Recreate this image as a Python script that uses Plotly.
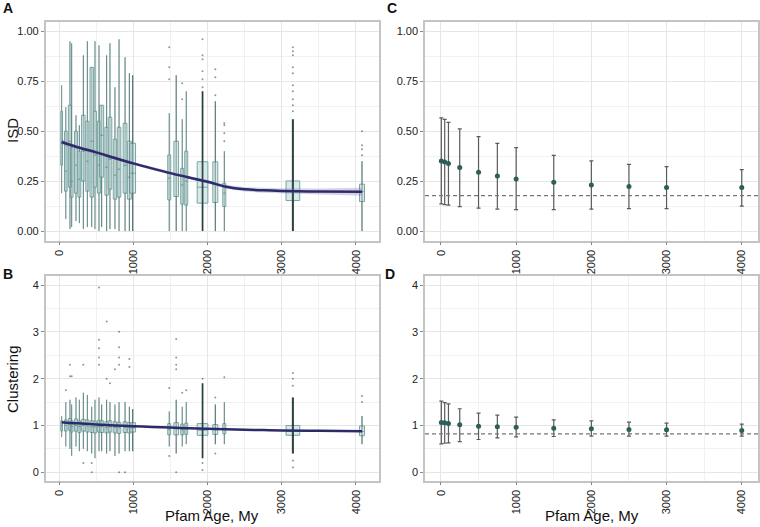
import plotly.graph_objects as go
import numpy as np

# ---------------- DATA ----------------
# Panel A/B: Pfam age groups (My) and family counts (box width ~ sqrt(n))
ages = [35, 91, 147, 170, 228, 273, 327, 381, 440, 484, 538, 574, 641, 686, 753, 808, 889, 947, 992,
        1484, 1578, 1659, 1713, 1933, 2105, 2226, 3150, 4081]
n_fam = [50, 110, 160, 120, 150, 130, 200, 150, 180, 170, 160, 250, 190, 210, 180, 200, 230, 250, 520,
         144, 350, 144, 144, 1830, 400, 144, 3000, 400]

# ISD box statistics
isd_lo  = [0.19, 0.06, 0.01, 0.02, 0.05, 0.04, 0.01, 0.02, 0.02, 0.01, 0.00, 0.02, 0.00, 0.01, 0.01, 0.00, 0.00, 0.00, 0.00,
           0.00, 0.00, 0.00, 0.00, 0.00, 0.00, 0.00, 0.00, 0.00]
isd_q1  = [0.33, 0.20, 0.22, 0.17, 0.19, 0.17, 0.25, 0.20, 0.17, 0.22, 0.19, 0.27, 0.18, 0.21, 0.16, 0.17, 0.19, 0.16, 0.19,
           0.156, 0.173, 0.135, 0.13, 0.14, 0.143, 0.123, 0.153, 0.148]
isd_med = [0.44, 0.30, 0.45, 0.25, 0.33, 0.26, 0.40, 0.35, 0.45, 0.38, 0.33, 0.48, 0.32, 0.36, 0.28, 0.31, 0.33, 0.27, 0.29,
           0.265, 0.281, 0.231, 0.25, 0.22, 0.235, 0.19, 0.203, 0.197]
isd_q3  = [0.60, 0.50, 0.63, 0.42, 0.50, 0.40, 0.58, 0.55, 0.82, 0.60, 0.55, 0.63, 0.52, 0.57, 0.46, 0.52, 0.54, 0.45, 0.44,
           0.381, 0.45, 0.314, 0.40, 0.347, 0.347, 0.24, 0.251, 0.235]
isd_hi  = [0.73, 0.62, 0.95, 0.94, 0.58, 0.53, 0.88, 0.95, 0.82, 0.95, 0.93, 0.63, 0.88, 0.94, 0.72, 0.96, 0.87, 0.79, 0.78,
           0.59, 0.78, 0.56, 0.70, 0.70, 0.65, 0.40, 0.56, 0.35]
isd_out_age = [1484, 1484, 1484, 1659, 1659, 1933, 1933, 1933, 1933, 1933, 1933, 2105, 2105, 2105,
               2226, 2226, 2226, 2226, 3150, 3150, 3150, 3150, 3150, 3150, 3150, 3150, 3150, 3150,
               4081, 4081, 4081, 4081]
isd_out_val = [0.92, 0.82, 0.76, 0.66, 0.74, 0.96, 0.88, 0.86, 0.80, 0.76, 0.72, 0.81, 0.77, 0.68,
               0.54, 0.53, 0.49, 0.45, 0.92, 0.90, 0.88, 0.82, 0.79, 0.73, 0.70, 0.66, 0.63, 0.60,
               0.50, 0.43, 0.41, 0.38]

# Clustering box statistics
clu_lo  = [0.75, 0.55, 0.50, 0.35, 0.55, 0.45, 0.50, 0.45, 0.40, 0.30, 0.45, 0.45, 0.40, 0.45, 0.35, 0.40, 0.45, 0.45, 0.45,
           0.55, 0.40, 0.55, 0.60, 0.30, 0.60, 0.60, 0.40, 0.60]
clu_q1  = [0.88, 0.88, 0.90, 0.86, 0.88, 0.85, 0.88, 0.86, 0.85, 0.84, 0.86, 0.85, 0.84, 0.86, 0.84, 0.83, 0.85, 0.84, 0.86,
           0.80, 0.80, 0.80, 0.81, 0.79, 0.81, 0.82, 0.79, 0.78]
clu_med = [1.00, 1.00, 1.02, 0.98, 1.00, 0.98, 1.00, 0.99, 0.97, 0.97, 0.98, 0.98, 0.96, 0.97, 0.96, 0.95, 0.96, 0.95, 0.95,
           0.92, 0.93, 0.91, 0.92, 0.90, 0.91, 0.92, 0.88, 0.87]
clu_q3  = [1.10, 1.12, 1.15, 1.10, 1.14, 1.10, 1.13, 1.12, 1.10, 1.09, 1.11, 1.10, 1.08, 1.10, 1.08, 1.07, 1.08, 1.06, 1.06,
           1.04, 1.06, 1.03, 1.05, 1.04, 1.02, 1.04, 1.00, 0.99]
clu_hi  = [1.20, 1.50, 1.55, 1.45, 1.60, 1.55, 1.70, 1.65, 1.40, 1.55, 1.60, 1.45, 1.55, 1.50, 1.45, 1.50, 1.50, 1.40, 1.35,
           1.30, 1.55, 1.40, 1.50, 1.90, 1.45, 1.50, 1.60, 1.20]
clu_out_age = [91, 147, 147, 170, 327, 327, 440, 440, 538, 538, 538, 538, 538, 641, 641, 686, 753,
               808, 808, 808, 808, 808, 889, 947, 947,
               1484, 1484, 1578, 1578, 1578, 1578, 1578, 1659, 1713, 1933, 1933, 1933, 2105, 2105, 2226,
               3150, 3150, 3150, 3150, 3150, 4081, 4081]
clu_out_val = [1.75, 2.30, 2.05, 2.05, 2.30, 0.20, 0.00, 0.20, 3.95, 2.83, 2.65, 2.45, 2.30, 3.22, 2.00, 1.90, 2.20,
               3.00, 2.67, 2.45, 2.30, 0.00, 0.00, 2.42, 2.25,
               1.80, 0.35, 2.85, 2.45, 2.30, 2.20, 0.00, 1.70, 1.75, 2.00, 0.05, 0.20, 1.60, 0.40, 2.03,
               2.12, 2.00, 1.85, 0.10, 0.25, 1.63, 1.50]

# LOESS fits
fit_age = [35, 250, 500, 750, 1000, 1250, 1500, 1750, 2000, 2250, 2500, 2750, 3000, 3500, 4081]
isd_fit = [0.446, 0.420, 0.394, 0.366, 0.339, 0.314, 0.290, 0.268, 0.247, 0.222, 0.209, 0.204, 0.201, 0.198, 0.197]
isd_se  = [0.012, 0.009, 0.008, 0.008, 0.008, 0.008, 0.008, 0.008, 0.009, 0.010, 0.011, 0.012, 0.013, 0.015, 0.020]
clu_fit = [1.070, 1.045, 1.022, 1.002, 0.985, 0.970, 0.955, 0.942, 0.930, 0.920, 0.910, 0.902, 0.895, 0.886, 0.878]
clu_se  = [0.012, 0.008, 0.007, 0.007, 0.007, 0.007, 0.007, 0.007, 0.007, 0.007, 0.007, 0.007, 0.007, 0.008, 0.012]

# Panels C/D: means with error bars
cd_age = [5, 50, 100, 250, 500, 750, 1000, 1500, 2000, 2500, 3000, 4000]
isd_mean  = [0.351, 0.346, 0.338, 0.318, 0.295, 0.276, 0.261, 0.245, 0.231, 0.223, 0.218, 0.218]
isd_upper = [0.567, 0.559, 0.544, 0.512, 0.473, 0.439, 0.418, 0.379, 0.351, 0.334, 0.323, 0.308]
isd_lower = [0.136, 0.133, 0.130, 0.123, 0.115, 0.110, 0.108, 0.108, 0.110, 0.113, 0.113, 0.125]
isd_baseline = 0.178
clu_mean  = [1.064, 1.057, 1.043, 1.014, 0.986, 0.971, 0.964, 0.943, 0.929, 0.914, 0.907, 0.893]
clu_upper = [1.520, 1.490, 1.460, 1.357, 1.264, 1.221, 1.179, 1.121, 1.100, 1.071, 1.050, 1.029]
clu_lower = [0.607, 0.620, 0.630, 0.657, 0.700, 0.736, 0.757, 0.764, 0.771, 0.771, 0.771, 0.771]
clu_baseline = 0.82

x_ticks = [0, 1000, 2000, 3000, 4000]

# ---------------- STYLE / LAYOUT ----------------
W, H = 760, 527
FONT = "Liberation Sans, Arial, sans-serif"
BOX_FILL = "rgba(190,220,220,0.6)"
BOX_LINE = "#79a6a4"
FIT_COL = "#2c2a6a"
RIB_COL = "rgba(120,110,170,0.30)"
TICK_SIZE = 11
TICK_COL = "#222"

def px_to_dom(x0, x1):
    return [x0 / W, x1 / W]

def py_to_dom(y0, y1):
    return [1 - y1 / H, 1 - y0 / H]

XR_AB = [-180, 4310]
XR_CD = [-212, 4220]
PX_PER_UNIT_AB = (379.0 - 45.7) / (XR_AB[1] - XR_AB[0])

fig = go.Figure()

def add_box_panel(xa, ya, lo, q1, med, q3, hi, out_age, out_val):
    for i, a in enumerate(ages):
        wpx = 0.25 * np.sqrt(n_fam[i])
        wunits = wpx / PX_PER_UNIT_AB
        fig.add_trace(go.Box(
            x=[a], q1=[q1[i]], median=[med[i]], q3=[q3[i]],
            lowerfence=[lo[i]], upperfence=[hi[i]],
            width=wunits, whiskerwidth=0, boxpoints=False,
            fillcolor=BOX_FILL, line=dict(color=BOX_LINE, width=1),
            xaxis=xa, yaxis=ya, showlegend=False, hoverinfo="skip"))
    for i, a in enumerate(ages):
        lw = 0.7 + np.sqrt(n_fam[i]) / 40.0
        alpha = min(0.85, 0.22 + n_fam[i] / 2200.0)
        fig.add_trace(go.Scatter(
            x=[a, a], y=[lo[i], hi[i]], mode="lines",
            line=dict(color=f"rgba(25,45,45,{alpha:.2f})", width=lw),
            xaxis=xa, yaxis=ya, showlegend=False, hoverinfo="skip"))
    fig.add_trace(go.Scatter(
        x=out_age, y=out_val, mode="markers",
        marker=dict(color="rgba(30,50,50,0.5)", size=2),
        xaxis=xa, yaxis=ya, showlegend=False, hoverinfo="skip"))

def add_fit(xa, ya, fit, se):
    up = [f + s for f, s in zip(fit, se)]
    dn = [f - s for f, s in zip(fit, se)]
    fig.add_trace(go.Scatter(x=fit_age + fit_age[::-1], y=up + dn[::-1], fill="toself",
                             fillcolor=RIB_COL, line=dict(width=0), mode="lines",
                             xaxis=xa, yaxis=ya, showlegend=False, hoverinfo="skip"))
    fig.add_trace(go.Scatter(x=fit_age, y=fit, mode="lines", line=dict(color=FIT_COL, width=2.5, shape="spline"),
                             xaxis=xa, yaxis=ya, showlegend=False, hoverinfo="skip"))

def add_means(xa, ya, mean, upper, lower):
    fig.add_trace(go.Scatter(
        x=cd_age, y=mean, mode="markers",
        marker=dict(color="#2c5f58", size=5),
        error_y=dict(type="data", symmetric=False,
                     array=[u - m for u, m in zip(upper, mean)],
                     arrayminus=[m - l for m, l in zip(mean, lower)],
                     color="#5a5a5a", thickness=1.2, width=2),
        xaxis=xa, yaxis=ya, showlegend=False, hoverinfo="skip"))

add_box_panel("x", "y", isd_lo, isd_q1, isd_med, isd_q3, isd_hi, isd_out_age, isd_out_val)
add_fit("x", "y", isd_fit, isd_se)
add_box_panel("x2", "y2", clu_lo, clu_q1, clu_med, clu_q3, clu_hi, clu_out_age, clu_out_val)
add_fit("x2", "y2", clu_fit, clu_se)
add_means("x3", "y3", isd_mean, isd_upper, isd_lower)
add_means("x4", "y4", clu_mean, clu_upper, clu_lower)

def xaxis_cfg(dom, rng, anchor):
    return dict(domain=dom, range=rng, anchor=anchor, tickvals=x_ticks, ticktext=[str(v) for v in x_ticks],
                tickangle=-90, ticks="outside", ticklen=3, tickcolor="#888", tickwidth=1,
                tickfont=dict(size=TICK_SIZE, color=TICK_COL, family=FONT),
                showgrid=True, gridcolor="#e6e6e6", gridwidth=1,
                minor=dict(tickvals=[500, 1500, 2500, 3500], showgrid=True, gridcolor="#f1f1f1", gridwidth=0.8, ticks=""),
                showline=True, linecolor="#c4c4c4", linewidth=1.5, mirror=True, zeroline=False)

def yaxis_cfg(dom, rng, anchor, tv, tt, minor_tv):
    return dict(domain=dom, range=rng, anchor=anchor, tickvals=tv, ticktext=tt,
                ticks="outside", ticklen=3, tickcolor="#888", tickwidth=1,
                tickfont=dict(size=TICK_SIZE, color=TICK_COL, family=FONT),
                showgrid=True, gridcolor="#e6e6e6", gridwidth=1,
                minor=dict(tickvals=minor_tv, showgrid=True, gridcolor="#f1f1f1", gridwidth=0.8, ticks=""),
                showline=True, linecolor="#c4c4c4", linewidth=1.5, mirror=True, zeroline=False)

isd_tv = [0, 0.25, 0.5, 0.75, 1.0]
isd_tt = ["0.00", "0.25", "0.50", "0.75", "1.00"]
isd_minor = [0.125, 0.375, 0.625, 0.875]
clu_tv = [0, 1, 2, 3, 4]
clu_tt = ["0", "1", "2", "3", "4"]
clu_minor = [0.5, 1.5, 2.5, 3.5]

XA = px_to_dom(45.7, 379.0)
XC = px_to_dom(425.0, 758.3)
YA = py_to_dom(21.7, 240.7)
YB = py_to_dom(275.7, 480.7)

fig.update_layout(
    width=W, height=H, margin=dict(l=0, r=0, t=0, b=0),
    paper_bgcolor="white", plot_bgcolor="white",
    font=dict(family=FONT, color="#222"),
    boxmode="overlay",
    xaxis=xaxis_cfg(XA, XR_AB, "y"),
    yaxis=yaxis_cfg(YA, [-0.048, 1.048], "x", isd_tv, isd_tt, isd_minor),
    xaxis2=xaxis_cfg(XA, XR_AB, "y2"),
    yaxis2=yaxis_cfg(YB, [-0.18, 4.2], "x2", clu_tv, clu_tt, clu_minor),
    xaxis3=xaxis_cfg(XC, XR_CD, "y3"),
    yaxis3=yaxis_cfg(YA, [-0.048, 1.048], "x3", isd_tv, isd_tt, isd_minor),
    xaxis4=xaxis_cfg(XC, XR_CD, "y4"),
    yaxis4=yaxis_cfg(YB, [-0.18, 4.2], "x4", clu_tv, clu_tt, clu_minor),
)

# dashed baselines
fig.add_shape(type="line", xref="x3 domain", yref="y3", x0=0, x1=1, y0=isd_baseline, y1=isd_baseline,
              line=dict(color="#777", width=1.2, dash="4px,3px"))
fig.add_shape(type="line", xref="x4 domain", yref="y4", x0=0, x1=1, y0=clu_baseline, y1=clu_baseline,
              line=dict(color="#777", width=1.2, dash="4px,3px"))

def ann(text, xpx, ypx, size, bold=False, angle=0):
    fig.add_annotation(text=f"<b>{text}</b>" if bold else text, x=xpx / W, y=1 - ypx / H,
                       xref="paper", yref="paper", showarrow=False, textangle=angle,
                       xanchor="center", yanchor="middle",
                       font=dict(size=size, family=FONT, color="#111"))

ann("A", 8, 8.5, 14, bold=True)
ann("B", 8, 274, 14, bold=True)
ann("C", 392, 8.5, 14, bold=True)
ann("D", 390, 274, 14, bold=True)
ann("ISD", 13, 131, 15, angle=-90)
ann("Clustering", 12, 379, 15, angle=-90)
ann("Pfam Age, My", 212, 515, 15)
ann("Pfam Age, My", 591.5, 515, 15)

fig.write_html("out.html", config={"displayModeBar": False},
               post_script="document.body.style.margin='0px';document.body.style.padding='0px';")
